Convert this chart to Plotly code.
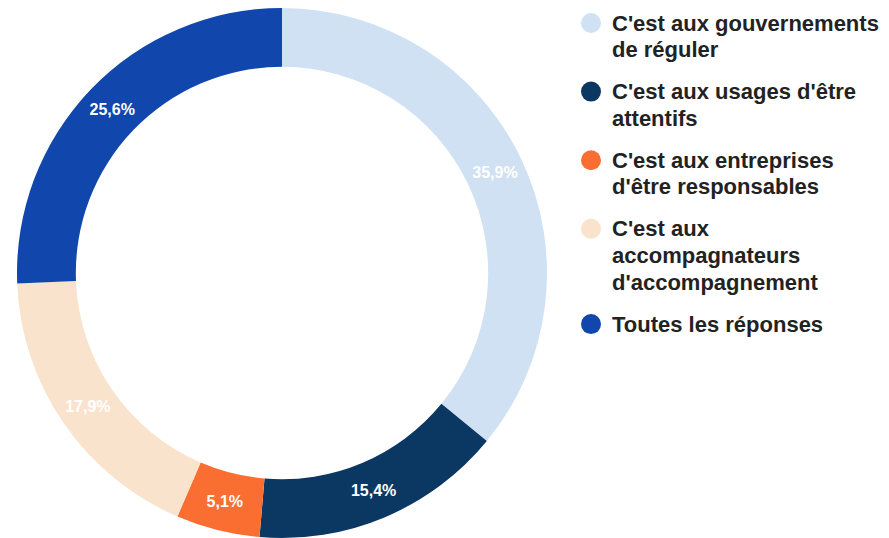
import plotly.graph_objects as go

labels = [
    "C'est aux gouvernements<br>de réguler",
    "C'est aux usages d'être<br>attentifs",
    "C'est aux entreprises<br>d'être responsables",
    "C'est aux<br>accompagnateurs<br>d'accompagnement",
    "Toutes les réponses",
]
values = [35.9, 15.4, 5.1, 17.9, 25.6]
text_labels = ["35,9%", "15,4%", "5,1%", "17,9%", "25,6%"]
colors = ["#cfe1f3", "#0b3763", "#fb6e32", "#f9e3cc", "#1146ad"]

W, H = 889, 538
fig = go.Figure()
fig.add_trace(go.Pie(
    labels=labels, values=values, text=text_labels,
    textinfo="text", textposition="inside", insidetextorientation="horizontal",
    hole=0.778, sort=False, direction="clockwise", rotation=0,
    marker=dict(colors=colors, line=dict(width=0)),
    textfont=dict(family="Liberation Sans", size=16, color="white", weight="bold"),
    domain=dict(x=[9 / W, 539 / W], y=[8 / H, 1]),
    showlegend=False,
))

# custom legend (pixel-based layout on hidden axes)
LEG_MARK_X, LEG_TEXT_X = 583, 602
LEG_Y0, LINE_STEP, ITEM_GAP = 15, 26.7, 15.2
FONT = dict(family="Liberation Sans", size=22, color="#222222", weight="bold")
y = LEG_Y0
mark_y = []
annotations = []
for lab in labels:
    mark_y.append(y)
    lines = lab.split("<br>")
    for j, ln in enumerate(lines):
        annotations.append(dict(x=LEG_TEXT_X, y=y + j * LINE_STEP, xref="x", yref="y",
                                text=ln, showarrow=False, xanchor="left", yanchor="middle",
                                font=FONT))
    y += (len(lines) - 1) * LINE_STEP + LINE_STEP + ITEM_GAP
fig.add_trace(go.Scatter(
    x=[LEG_MARK_X] * len(labels), y=mark_y, mode="markers",
    marker=dict(color=colors, size=20, line=dict(width=0)),
    hoverinfo="skip", showlegend=False,
))
fig.update_layout(
    width=W, height=H, margin=dict(l=0, r=0, t=0, b=0),
    paper_bgcolor="white", plot_bgcolor="white", showlegend=False,
    xaxis=dict(visible=False, range=[0, W], domain=[0, 1], fixedrange=True),
    yaxis=dict(visible=False, range=[H, 0], domain=[0, 1], fixedrange=True),
    annotations=annotations,
)
fig.write_html("out.html")
